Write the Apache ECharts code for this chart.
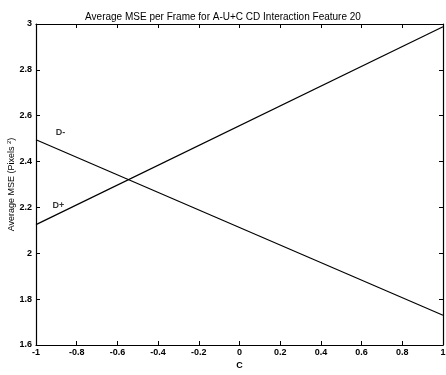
<!DOCTYPE html>
<html><head><meta charset="utf-8">
<script src="https://cdn.jsdelivr.net/npm/echarts@6/dist/echarts.min.js"></script>
<style>html,body{margin:0;padding:0;background:#fff}#c{width:446px;height:375px}</style>
</head><body><div id="c"></div>
<script>
var xEnds = [-1, 1];
var dMinus = [2.495, 1.73];
var dPlus = [2.125, 2.988];
var seriesNames = ['D-', 'D+'];
var labelPos = [[-0.88, 2.525], [-0.89, 2.21]];
var title = 'Average MSE per Frame for A-U+C CD Interaction Feature 20';

var font = 'Liberation Sans, Arial, sans-serif';
function fmt(v){ return String(Math.round(v*10)/10); }
var chart = echarts.init(document.getElementById('c'));
function axisCommon(){ return {
  type:'value', axisLine:{show:true, onZero:false, lineStyle:{color:'#000', width:1.2}},
  axisTick:{show:true, inside:true, length:4, lineStyle:{color:'#000'}},
  splitLine:{show:false}
};}
var lblStyle = {fontFamily:font, fontSize:9, fontWeight:'bold', color:'#000', margin:4, formatter:fmt};
chart.setOption({
  animation:false,
  title:{text:title, left:'center', top:7, textStyle:{fontFamily:font, fontSize:10, fontWeight:'normal', color:'#000'}},
  grid:{left:36, right:3, top:24, bottom:30, containLabel:false, outerBoundsMode:'none'},
  xAxis:[
    Object.assign(axisCommon(), {min:-1, max:1, interval:0.2, position:'bottom', name:'C', nameLocation:'middle', nameGap:16, nameMoveOverlap:false,
      nameTextStyle:{fontFamily:font, fontSize:9, fontWeight:'bold', color:'#000'},
      axisLabel:Object.assign({}, lblStyle, {margin:3})}),
    Object.assign(axisCommon(), {min:-1, max:1, interval:0.2, position:'top', axisLabel:{show:false}})
  ],
  yAxis:[
    Object.assign(axisCommon(), {min:1.6, max:3, interval:0.2, position:'left', name:'Average MSE (Pixels {s|2})', nameLocation:'middle', nameGap:19, nameMoveOverlap:false,
      nameTextStyle:{fontFamily:font, fontSize:9, color:'#000', rich:{s:{fontSize:6, verticalAlign:'top', padding:[0,0,5,0], fontFamily:font}}},
      axisLabel:lblStyle}),
    Object.assign(axisCommon(), {min:1.6, max:3, interval:0.2, position:'right', axisLabel:{show:false}})
  ],
  series:[
    {name:seriesNames[0], type:'line', data:[[xEnds[0], dMinus[0]], [xEnds[1], dMinus[1]]], symbol:'none', lineStyle:{color:'#000', width:1.2}},
    {name:seriesNames[1], type:'line', data:[[xEnds[0], dPlus[0]], [xEnds[1], dPlus[1]]], symbol:'none', lineStyle:{color:'#000', width:1.2}},
    {type:'scatter', symbolSize:0, data:labelPos.map(function(p,i){return {value:p, name:seriesNames[i]};}),
      label:{show:true, position:'inside', formatter:'{b}', fontFamily:font, fontSize:9, fontWeight:'bold', color:'#000'}}
  ]
});
</script></body></html>
